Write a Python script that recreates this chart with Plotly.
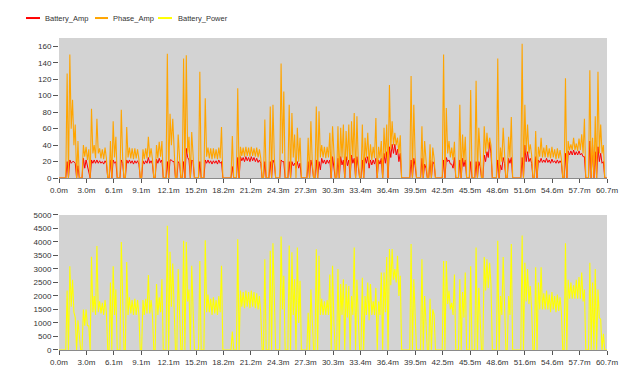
import plotly.graph_objects as go
from plotly.subplots import make_subplots

# sample clock (minutes): one bin every 0.3 min; each bin holds the high and low reading
t = [round(i * 0.3, 1) for i in range(203)]

phase_hi = [
    0, 0, 0, 127, 150, 95, 65, 45, 0, 40,
    38, 35, 84, 40, 72, 36, 35, 37, 0, 45,
    69, 50, 0, 83, 0, 62, 37, 36, 36, 35,
    0, 35, 36, 50, 36, 0, 40, 44, 45, 0,
    151, 78, 72, 0, 53, 0, 145, 149, 50, 56,
    0, 0, 129, 0, 97, 37, 36, 36, 35, 37,
    62, 0, 0, 0, 51, 0, 109, 38, 37, 38,
    37, 38, 36, 37, 35, 0, 71, 0, 87, 89,
    0, 0, 139, 105, 0, 89, 79, 53, 61, 49,
    0, 0, 49, 69, 0, 87, 81, 40, 38, 38,
    55, 63, 0, 63, 61, 65, 57, 65, 69, 79,
    75, 0, 65, 49, 55, 41, 38, 73, 38, 45,
    61, 65, 113, 69, 55, 49, 52, 0, 0, 0,
    124, 89, 0, 0, 63, 45, 0, 41, 37, 0,
    0, 0, 150, 85, 45, 37, 44, 0, 89, 53,
    50, 0, 107, 0, 118, 61, 0, 63, 55, 49,
    0, 0, 145, 37, 61, 0, 50, 74, 0, 0,
    0, 163, 89, 65, 41, 0, 57, 38, 49, 37,
    40, 36, 38, 35, 36, 34, 0, 121, 45, 41,
    49, 42, 48, 53, 72, 0, 131, 49, 75, 129,
    65, 40, 0,
]
phase_lo = [
    0, 0, 0, 0, 60, 40, 0, 0, 0, 26,
    22, 0, 30, 24, 30, 24, 23, 24, 0, 0,
    25, 0, 0, 25, 0, 25, 24, 23, 24, 23,
    0, 23, 24, 25, 23, 0, 24, 26, 0, 0,
    0, 40, 30, 0, 25, 0, 0, 30, 0, 28,
    0, 0, 0, 0, 26, 24, 23, 24, 23, 24,
    0, 0, 0, 0, 0, 0, 0, 27, 26, 27,
    26, 27, 26, 25, 24, 0, 0, 0, 0, 25,
    0, 0, 30, 0, 0, 0, 25, 0, 20, 0,
    0, 0, 0, 20, 0, 0, 25, 25, 24, 25,
    0, 20, 0, 0, 25, 0, 22, 0, 25, 0,
    20, 0, 0, 24, 18, 22, 24, 0, 24, 0,
    25, 0, 35, 40, 40, 30, 0, 0, 0, 0,
    0, 25, 0, 0, 0, 22, 0, 0, 24, 0,
    0, 0, 0, 30, 25, 22, 0, 0, 0, 20,
    0, 0, 0, 0, 0, 20, 0, 30, 35, 40,
    0, 0, 0, 20, 25, 0, 25, 0, 0, 0,
    0, 0, 30, 30, 28, 0, 0, 26, 25, 25,
    25, 24, 25, 23, 24, 23, 0, 0, 34, 34,
    34, 33, 34, 30, 0, 0, 0, 0, 0, 30,
    30, 0, 0,
]

battery_amp_hi = [
    0, 0, 0, 20, 22, 20, 18, 15, 0, 24,
    22, 10, 22, 22, 22, 21, 20, 21, 0, 22,
    22, 20, 0, 22, 0, 22, 22, 21, 21, 21,
    0, 21, 21, 25, 21, 0, 23, 24, 22, 0,
    20, 22, 20, 0, 20, 0, 20, 36, 22, 22,
    0, 0, 20, 0, 22, 22, 21, 21, 21, 22,
    20, 0, 0, 0, 14, 0, 25, 26, 25, 26,
    25, 26, 25, 24, 22, 0, 20, 0, 20, 22,
    0, 0, 22, 20, 0, 20, 20, 18, 20, 18,
    0, 0, 20, 22, 0, 22, 20, 24, 22, 22,
    22, 26, 0, 24, 26, 22, 26, 22, 28, 24,
    26, 0, 22, 25, 26, 22, 22, 24, 22, 24,
    30, 32, 38, 41, 41, 35, 30, 0, 0, 0,
    22, 24, 0, 0, 24, 17, 0, 22, 20, 0,
    0, 0, 22, 25, 22, 17, 25, 0, 22, 24,
    22, 0, 20, 0, 20, 20, 0, 28, 32, 44,
    0, 0, 22, 16, 25, 0, 24, 25, 0, 0,
    0, 25, 40, 32, 24, 0, 26, 22, 24, 22,
    24, 22, 23, 21, 22, 21, 0, 30, 33, 33,
    34, 32, 33, 30, 26, 0, 45, 40, 32, 38,
    30, 20, 0,
]
battery_amp_lo = [
    0, 0, 0, 0, 18, 20, 0, 0, 0, 12,
    14, 0, 18, 18, 18, 18, 17, 18, 0, 0,
    18, 0, 0, 18, 0, 18, 18, 17, 18, 17,
    0, 17, 18, 18, 17, 0, 18, 19, 0, 0,
    0, 22, 20, 0, 18, 0, 0, 25, 0, 20,
    0, 0, 0, 0, 18, 18, 17, 18, 17, 18,
    0, 0, 0, 0, 0, 0, 0, 21, 20, 21,
    20, 21, 20, 19, 18, 0, 0, 0, 0, 18,
    0, 0, 20, 0, 0, 0, 15, 12, 12, 0,
    0, 0, 0, 14, 0, 0, 10, 18, 17, 18,
    0, 12, 0, 0, 16, 0, 15, 0, 18, 0,
    14, 0, 0, 18, 12, 16, 17, 0, 17, 0,
    18, 0, 25, 30, 28, 20, 0, 0, 0, 0,
    0, 15, 0, 0, 0, 12, 0, 0, 17, 0,
    0, 0, 0, 20, 17, 12, 0, 0, 0, 14,
    0, 0, 0, 0, 0, 14, 0, 20, 25, 30,
    0, 0, 0, 10, 18, 0, 18, 0, 0, 0,
    0, 0, 20, 20, 18, 0, 0, 19, 19, 19,
    19, 18, 19, 18, 18, 18, 0, 0, 28, 28,
    28, 28, 28, 26, 0, 0, 0, 0, 0, 20,
    18, 0, 0,
]

power_hi = [
    0, 0, 0, 2200, 3100, 2600, 1200, 1100, 0, 1500,
    1500, 900, 3450, 2000, 3850, 1800, 1750, 1850, 0, 2500,
    3100, 2240, 0, 4000, 0, 3260, 1950, 1850, 1900, 1850,
    0, 1850, 1900, 2780, 1850, 0, 2440, 1950, 2620, 0,
    4600, 3640, 3200, 0, 3000, 0, 4050, 4000, 2240, 3120,
    0, 0, 3300, 0, 4060, 2050, 1900, 1950, 1850, 2000,
    3120, 0, 0, 0, 680, 0, 4100, 2200, 2150, 2200,
    2150, 2200, 2150, 2100, 2000, 0, 3360, 0, 3680, 3950,
    0, 0, 4200, 2750, 0, 3870, 3620, 2620, 3800, 2560,
    0, 0, 1380, 2240, 0, 3730, 3490, 1900, 1800, 1850,
    2800, 3120, 0, 3000, 2440, 2620, 2440, 2370, 2000, 3800,
    2600, 0, 2680, 2000, 2500, 2440, 1800, 2300, 1800, 2870,
    2870, 3440, 3740, 3740, 3000, 3490, 2750, 0, 0, 0,
    3930, 2620, 0, 0, 3360, 2000, 0, 1900, 1500, 0,
    0, 0, 3300, 3300, 2200, 1750, 2800, 0, 2620, 2150,
    2870, 0, 3100, 0, 3800, 2300, 0, 3440, 3360, 3230,
    0, 0, 4050, 2000, 3440, 0, 2000, 3930, 0, 0,
    0, 4240, 3230, 3000, 2370, 0, 3060, 2500, 3060, 2100,
    2200, 2050, 2150, 2000, 2050, 1950, 0, 3950, 2600, 2500,
    2400, 2600, 2700, 2870, 2240, 0, 3230, 2500, 3000, 2240,
    1130, 600, 0,
]
power_lo = [
    0, 0, 0, 0, 1600, 1400, 0, 600, 0, 900,
    900, 0, 1400, 1300, 1400, 1350, 1300, 1400, 0, 0,
    1300, 0, 0, 1300, 0, 1300, 1350, 1300, 1300, 1300,
    0, 1300, 1350, 1350, 1300, 0, 1300, 1400, 0, 0,
    0, 1600, 1500, 0, 1400, 0, 0, 1800, 0, 1500,
    0, 0, 0, 0, 1400, 1400, 1300, 1350, 1300, 1400,
    0, 0, 0, 0, 0, 0, 0, 1600, 1550, 1600,
    1550, 1600, 1550, 1500, 1350, 0, 0, 0, 0, 1300,
    0, 0, 1500, 0, 0, 0, 1300, 0, 1000, 0,
    0, 0, 0, 900, 0, 0, 1300, 1300, 1300, 1300,
    0, 1000, 0, 0, 1300, 0, 1200, 0, 1300, 0,
    1200, 0, 0, 1300, 1100, 1300, 1300, 0, 1300, 0,
    1400, 0, 2400, 2600, 2500, 2000, 0, 0, 0, 0,
    0, 1300, 0, 0, 0, 1200, 0, 0, 1300, 0,
    0, 0, 0, 1700, 1500, 1300, 0, 0, 0, 1200,
    0, 0, 0, 0, 0, 1300, 0, 2200, 2300, 2400,
    0, 0, 0, 1300, 1400, 0, 1300, 0, 0, 0,
    0, 0, 1800, 1700, 1500, 0, 0, 1500, 1500, 1500,
    1500, 1400, 1500, 1400, 1450, 1400, 0, 0, 1900, 1900,
    1900, 1900, 1900, 1800, 0, 0, 0, 0, 0, 1200,
    0, 0, 0,
]

tick_vals = [0, 3.035, 6.07, 9.105, 12.14, 15.175, 18.21, 21.245, 24.28, 27.315,
             30.35, 33.385, 36.42, 39.455, 42.49, 45.525, 48.56, 51.595, 54.63,
             57.665, 60.7]
tick_text = ["0.0m", "3.0m", "6.1m", "9.1m", "12.1m", "15.2m", "18.2m", "21.2m",
             "24.3m", "27.3m", "30.3m", "33.4m", "36.4m", "39.5m", "42.5m",
             "45.5m", "48.6m", "51.6m", "54.6m", "57.7m", "60.7m"]

series_names = ["Battery_Amp", "Phase_Amp", "Battery_Power"]
series_colors = ["#FF0000", "#FFA500", "#FFFF00"]


def interleave(hi, lo):
    xs, ys = [], []
    for ti, h, l in zip(t, hi, lo):
        xs += [ti, ti + 0.15]
        ys += [h, l]
    return xs, ys


fig = make_subplots(rows=2, cols=1)

x1, y1 = interleave(battery_amp_hi, battery_amp_lo)
x2, y2 = interleave(phase_hi, phase_lo)
x3, y3 = interleave(power_hi, power_lo)
fig.add_trace(go.Scatter(x=x1, y=y1, name=series_names[0], mode="lines", showlegend=False,
                         line=dict(color=series_colors[0], width=1)), row=1, col=1)
fig.add_trace(go.Scatter(x=x2, y=y2, name=series_names[1], mode="lines", showlegend=False,
                         line=dict(color=series_colors[1], width=1.1)), row=1, col=1)
fig.add_trace(go.Scatter(x=x3, y=y3, name=series_names[2], mode="lines", showlegend=False,
                         line=dict(color=series_colors[2], width=1.1)), row=2, col=1)

axis_font = dict(family="Liberation Sans, Arial, sans-serif", size=8, color="#333333")
xcommon = dict(range=[0, 60.7], tickmode="array", tickvals=tick_vals, ticktext=tick_text,
               showgrid=False, zeroline=False, showline=True, linecolor="#8a8a8a",
               linewidth=1, ticks="outside", ticklen=4, tickcolor="#555555",
               tickfont=axis_font)
ycommon = dict(showgrid=False, zeroline=False, showline=False, ticks="outside",
               ticklen=5, tickcolor="#555555", tickfont=axis_font)

fig.update_xaxes(**xcommon)
fig.update_layout(
    xaxis=dict(domain=[0, 1]),
    xaxis2=dict(domain=[0, 1]),
    yaxis=dict(domain=[0.551, 1.0], range=[0, 170], tickvals=list(range(0, 161, 20)), **ycommon),
    yaxis2=dict(domain=[0.0, 0.4327], range=[0, 5000], tickvals=list(range(0, 5001, 500)), **ycommon),
)

# legend drawn along the top (line sample + label per series)
legend_px = [(26, 40, 43), (95, 108, 111), (158, 172, 176)]
for (x0, x1p, xt), nm, col in zip(legend_px, series_names, series_colors):
    fig.add_shape(type="line", xref="paper", yref="paper",
                  x0=(x0 - 59) / 548, x1=(x1p - 59) / 548, y0=1.064, y1=1.064,
                  line=dict(color=col, width=2))
    fig.add_annotation(xref="paper", yref="paper", x=(xt - 59) / 548, y=1.064,
                       text=nm, showarrow=False, xanchor="left", yanchor="middle",
                       font=dict(family="Liberation Sans, Arial, sans-serif", size=7.5,
                                 color="#333333"))

# the page body adds an 8px offset, so the figure is 632x374 with shifted margins
fig.update_layout(
    width=632, height=374,
    margin=dict(l=51, r=33, t=30, b=32, autoexpand=False),
    paper_bgcolor="white",
    plot_bgcolor="#d3d3d3",
    showlegend=False,
)

fig.write_html("out.html")
